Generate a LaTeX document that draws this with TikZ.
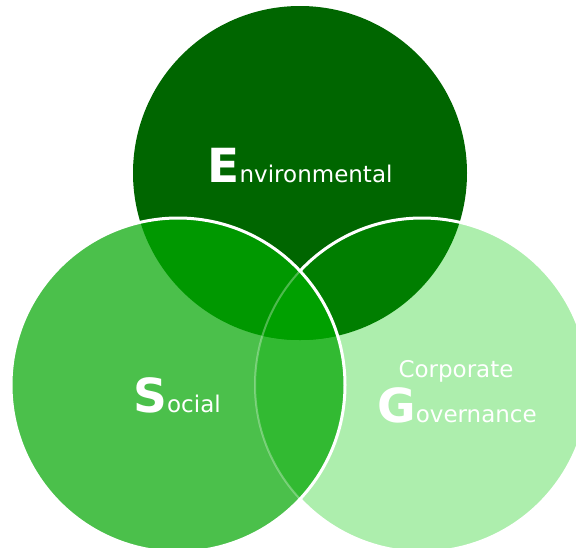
\documentclass[tikz,border=0pt]{standalone}
\usepackage{fontspec}
\usepackage{color}
\setmainfont{DejaVu Sans}

\definecolor{envgreen}{HTML}{006600}
\definecolor{socgreen}{HTML}{4BC04B}
\definecolor{govgreen}{HTML}{ADEEAD}
\definecolor{esgreen}{HTML}{009800}
\definecolor{eggreen}{HTML}{007E00}
\definecolor{sggreen}{HTML}{32BA32}
\definecolor{allgreen}{HTML}{00A000}

\begin{document}
\begin{tikzpicture}[x=1pt,y=-1pt]
              \tikzstyle{every node}+=[inner sep=0pt, text=white, anchor=base, font=\fontsize{23}{23}\selectfont]
              \tikzstyle{initial}=[font=\fontsize{47}{47}\selectfont\bfseries]
              \tikzstyle{rim}=[white, line width=3pt]
              \useasboundingbox (0,0) rectangle (576,547);
              \clip (0,0) rectangle (576,547);
              \coordinate (env) at (300,173);
              \coordinate (soc) at (178,385);
              \coordinate (gov) at (422,385);
              \fill [envgreen] (env) circle (167pt);
              \fill [govgreen] (gov) circle (167pt);
              \begin{scope}
                \clip (env) circle (167pt);
                \fill [eggreen] (gov) circle (167pt);
              \end{scope}
              \draw [rim] (gov) circle (167pt);
              \begin{scope}
                \clip (soc) circle (167pt);
                \fill [socgreen] (soc) circle (167pt);
                \fill [sggreen] (gov) circle (167pt);
                \fill [esgreen] (env) circle (167pt);
                \clip (env) circle (167pt);
                \fill [allgreen] (gov) circle (167pt);
              \end{scope}
              \begin{scope}
                \clip (soc) circle (167pt);
                \draw [white, opacity=0.3, line width=2pt] (gov) circle (167pt);
              \end{scope}
              \draw [rim] (soc) circle (167pt);
              \node (envlabel) at (300,182) {{\fontsize{47}{47}\selectfont\bfseries E}nvironmental};
              \node (soclabel) at (177,412) {{\fontsize{47}{47}\selectfont\bfseries S}ocial};
              \node (corplabel) at (456,377) {Corporate};
              \node (govlabel) at (457,422) {{\fontsize{47}{47}\selectfont\bfseries G}overnance};
\end{tikzpicture}
\end{document}
